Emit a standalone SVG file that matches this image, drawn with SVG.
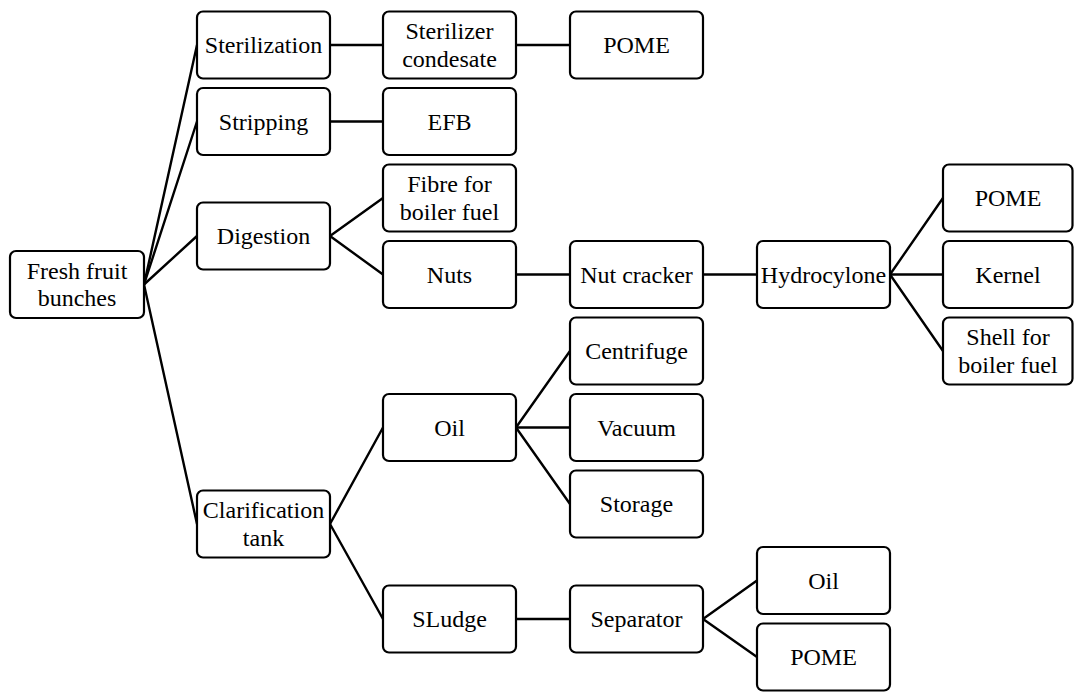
<svg xmlns="http://www.w3.org/2000/svg" width="1074" height="693" viewBox="0 0 1074 693">
<style>
.box{fill:#fff;stroke:#000;stroke-width:2.2}
.conn{stroke:#000;stroke-width:2.4;stroke-linecap:round}
</style>
<rect x="0" y="0" width="1074" height="693" fill="#fff"/>
<g id="connectors">
<line class="conn" x1="144" y1="284.5" x2="197" y2="45"/>
<line class="conn" x1="144" y1="284.5" x2="197" y2="121.5"/>
<line class="conn" x1="144" y1="284.5" x2="197" y2="236"/>
<line class="conn" x1="144" y1="284.5" x2="197" y2="524"/>
<line class="conn" x1="330" y1="45" x2="383" y2="45"/>
<line class="conn" x1="516" y1="45" x2="570" y2="45"/>
<line class="conn" x1="330" y1="121.5" x2="383" y2="121.5"/>
<line class="conn" x1="330" y1="236" x2="383" y2="198"/>
<line class="conn" x1="330" y1="236" x2="383" y2="274.5"/>
<line class="conn" x1="516" y1="274.5" x2="570" y2="274.5"/>
<line class="conn" x1="703" y1="274.5" x2="757" y2="274.5"/>
<line class="conn" x1="890" y1="274.5" x2="943" y2="198"/>
<line class="conn" x1="890" y1="274.5" x2="943" y2="274.5"/>
<line class="conn" x1="890" y1="274.5" x2="943" y2="351"/>
<line class="conn" x1="330" y1="524" x2="383" y2="427.5"/>
<line class="conn" x1="330" y1="524" x2="383" y2="619"/>
<line class="conn" x1="516" y1="427.5" x2="570" y2="351"/>
<line class="conn" x1="516" y1="427.5" x2="570" y2="427.5"/>
<line class="conn" x1="516" y1="427.5" x2="570" y2="504"/>
<line class="conn" x1="516" y1="619" x2="570" y2="619"/>
<line class="conn" x1="703" y1="619" x2="757" y2="580.5"/>
<line class="conn" x1="703" y1="619" x2="757" y2="657"/>
</g>
<g id="fresh"><rect class="box" x="10" y="251" width="134" height="67" rx="6"/><text x="77" y="278.8" font-family="Times New Roman" font-size="24" text-anchor="middle">Fresh fruit</text><text x="77" y="306.4" font-family="Times New Roman" font-size="24" text-anchor="middle">bunches</text></g>
<g id="sterilization"><rect class="box" x="197" y="11.5" width="133" height="67" rx="6"/><text x="263.5" y="53.1" font-family="Times New Roman" font-size="24" text-anchor="middle">Sterilization</text></g>
<g id="stripping"><rect class="box" x="197" y="88" width="133" height="67" rx="6"/><text x="263.5" y="129.6" font-family="Times New Roman" font-size="24" text-anchor="middle">Stripping</text></g>
<g id="digestion"><rect class="box" x="197" y="202.5" width="133" height="67" rx="6"/><text x="263.5" y="244.1" font-family="Times New Roman" font-size="24" text-anchor="middle">Digestion</text></g>
<g id="clarification"><rect class="box" x="197" y="490.5" width="133" height="67" rx="6"/><text x="263.5" y="518.3" font-family="Times New Roman" font-size="24" text-anchor="middle">Clarification</text><text x="263.5" y="545.9" font-family="Times New Roman" font-size="24" text-anchor="middle">tank</text></g>
<g id="condesate"><rect class="box" x="383" y="11.5" width="133" height="67" rx="6"/><text x="449.5" y="39.3" font-family="Times New Roman" font-size="24" text-anchor="middle">Sterilizer</text><text x="449.5" y="66.9" font-family="Times New Roman" font-size="24" text-anchor="middle">condesate</text></g>
<g id="efb"><rect class="box" x="383" y="88" width="133" height="67" rx="6"/><text x="449.5" y="129.6" font-family="Times New Roman" font-size="24" text-anchor="middle">EFB</text></g>
<g id="fibre"><rect class="box" x="383" y="164.5" width="133" height="67" rx="6"/><text x="449.5" y="192.3" font-family="Times New Roman" font-size="24" text-anchor="middle">Fibre for</text><text x="449.5" y="219.9" font-family="Times New Roman" font-size="24" text-anchor="middle">boiler fuel</text></g>
<g id="nuts"><rect class="box" x="383" y="241" width="133" height="67" rx="6"/><text x="449.5" y="282.6" font-family="Times New Roman" font-size="24" text-anchor="middle">Nuts</text></g>
<g id="oil1"><rect class="box" x="383" y="394" width="133" height="67" rx="6"/><text x="449.5" y="435.6" font-family="Times New Roman" font-size="24" text-anchor="middle">Oil</text></g>
<g id="sludge"><rect class="box" x="383" y="585.5" width="133" height="67" rx="6"/><text x="449.5" y="627.1" font-family="Times New Roman" font-size="24" text-anchor="middle">SLudge</text></g>
<g id="pome1"><rect class="box" x="570" y="11.5" width="133" height="67" rx="6"/><text x="636.5" y="53.1" font-family="Times New Roman" font-size="24" text-anchor="middle">POME</text></g>
<g id="nutcracker"><rect class="box" x="570" y="241" width="133" height="67" rx="6"/><text x="636.5" y="282.6" font-family="Times New Roman" font-size="24" text-anchor="middle">Nut cracker</text></g>
<g id="centrifuge"><rect class="box" x="570" y="317.5" width="133" height="67" rx="6"/><text x="636.5" y="359.1" font-family="Times New Roman" font-size="24" text-anchor="middle">Centrifuge</text></g>
<g id="vacuum"><rect class="box" x="570" y="394" width="133" height="67" rx="6"/><text x="636.5" y="435.6" font-family="Times New Roman" font-size="24" text-anchor="middle">Vacuum</text></g>
<g id="storage"><rect class="box" x="570" y="470.5" width="133" height="67" rx="6"/><text x="636.5" y="512.1" font-family="Times New Roman" font-size="24" text-anchor="middle">Storage</text></g>
<g id="separator"><rect class="box" x="570" y="585.5" width="133" height="67" rx="6"/><text x="636.5" y="627.1" font-family="Times New Roman" font-size="24" text-anchor="middle">Separator</text></g>
<g id="hydrocylone"><rect class="box" x="757" y="241" width="133" height="67" rx="6"/><text x="823.5" y="282.6" font-family="Times New Roman" font-size="24" text-anchor="middle">Hydrocylone</text></g>
<g id="oil2"><rect class="box" x="757" y="547" width="133" height="67" rx="6"/><text x="823.5" y="588.6" font-family="Times New Roman" font-size="24" text-anchor="middle">Oil</text></g>
<g id="pome3"><rect class="box" x="757" y="623.5" width="133" height="67" rx="6"/><text x="823.5" y="665.1" font-family="Times New Roman" font-size="24" text-anchor="middle">POME</text></g>
<g id="pome2"><rect class="box" x="943" y="164.5" width="129.5" height="67" rx="6"/><text x="1008" y="206.1" font-family="Times New Roman" font-size="24" text-anchor="middle">POME</text></g>
<g id="kernel"><rect class="box" x="943" y="241" width="129.5" height="67" rx="6"/><text x="1008" y="282.6" font-family="Times New Roman" font-size="24" text-anchor="middle">Kernel</text></g>
<g id="shell"><rect class="box" x="943" y="317.5" width="129.5" height="67" rx="6"/><text x="1008" y="345.3" font-family="Times New Roman" font-size="24" text-anchor="middle">Shell for</text><text x="1008" y="372.9" font-family="Times New Roman" font-size="24" text-anchor="middle">boiler fuel</text></g>
</svg>
